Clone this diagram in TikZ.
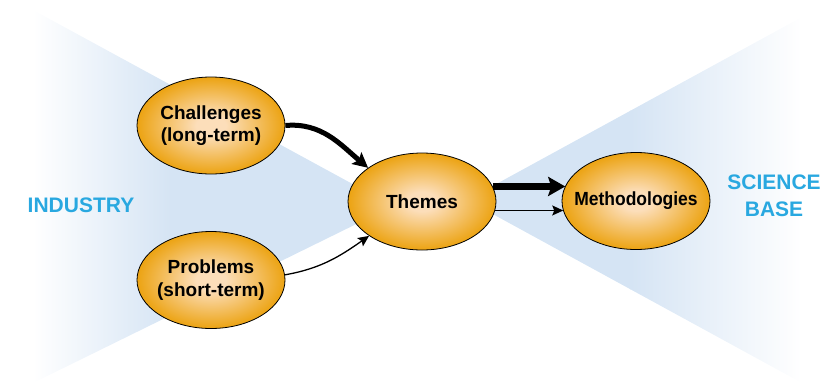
\documentclass[tikz,border=0pt]{standalone}
\usepackage{fontspec}
\setmainfont{Liberation Sans}
\usepackage{graphicx}
\usetikzlibrary{shapes.geometric,arrows.meta}
\definecolor{bgblue}{RGB}{213,228,244}
\definecolor{peachC}{RGB}{252,222,186}
\definecolor{orangeC}{RGB}{236,163,18}
\definecolor{labblue}{RGB}{41,168,224}
\pgfdeclareradialshading{ellsh}{\pgfpointorigin}{color(0bp)=(peachC); color(5bp)=(peachC); color(25bp)=(orangeC); color(50bp)=(orangeC)}
\newcommand{\zb}[1]{\makebox[0pt]{#1}}
\tikzset{
  bubble/.style={ellipse, draw=black, line width=0.8pt, shading=ellsh,
    minimum width=148pt, minimum height=97pt, inner sep=0pt, align=center,
    font=\fontsize{19}{22.5}\selectfont\bfseries},
  biglab/.style={text=labblue, align=center, font=\fontsize{21}{26.7}\selectfont\bfseries},
  fatarrow/.style={line width=5pt, -{Stealth[length=15pt,width=15pt,inset=3pt]}},
  fatterarrow/.style={line width=7pt, -{Stealth[length=17pt,width=19pt,inset=3pt]}},
  thinarrow/.style={line width=1.3pt, -{Stealth[length=11pt,width=10pt,inset=2pt]}}
}
\begin{document}
\begin{tikzpicture}[x=1pt,y=-1pt]
\useasboundingbox (0,0) rectangle (824,383);
% left fan
\begin{scope}
  \clip (33,10) -- (393,206) -- (33,383) -- cycle;
  \fill[bgblue] (170,0) rectangle (400,383);
  \shade[left color=white, right color=bgblue] (33,0) rectangle (171,383);
\end{scope}
% right fan
\begin{scope}
  \clip (467,200) -- (802,17) -- (802,383) -- cycle;
  \fill[bgblue] (460,0) rectangle (631,383);
  \shade[left color=bgblue, right color=white] (630,0) rectangle (802,383);
\end{scope}
% nodes
\node[bubble] (chal) at (211,125.5) {\zb{Challenges}\\\zb{(long-term)}};
\node[bubble] (prob) at (211,280) {\zb{Problems}\\\zb{(short-term)}};
\node[bubble] (themes) at (422,201.5) {\zb{Themes}};
\node[bubble] (meth) at (636,201) {\zb{\scalebox{0.92}[1]{Methodologies}}};
\node[biglab] (ind) at (81,205) {INDUSTRY};
\node[biglab] (sci) at (774,196) {SCIENCE\\BASE};
% connectors
\draw[fatarrow] (chal.east) to[out=5,in=140] (themes.148);
\draw[thinarrow] (prob.4) to[out=10,in=215] (themes.213);
\draw[fatterarrow] (themes.12.5) -- (themes.12.5 -| meth.168);
\draw[thinarrow] (themes.-7.5) -- (themes.-7.5 -| meth.188);
\end{tikzpicture}
\end{document}
